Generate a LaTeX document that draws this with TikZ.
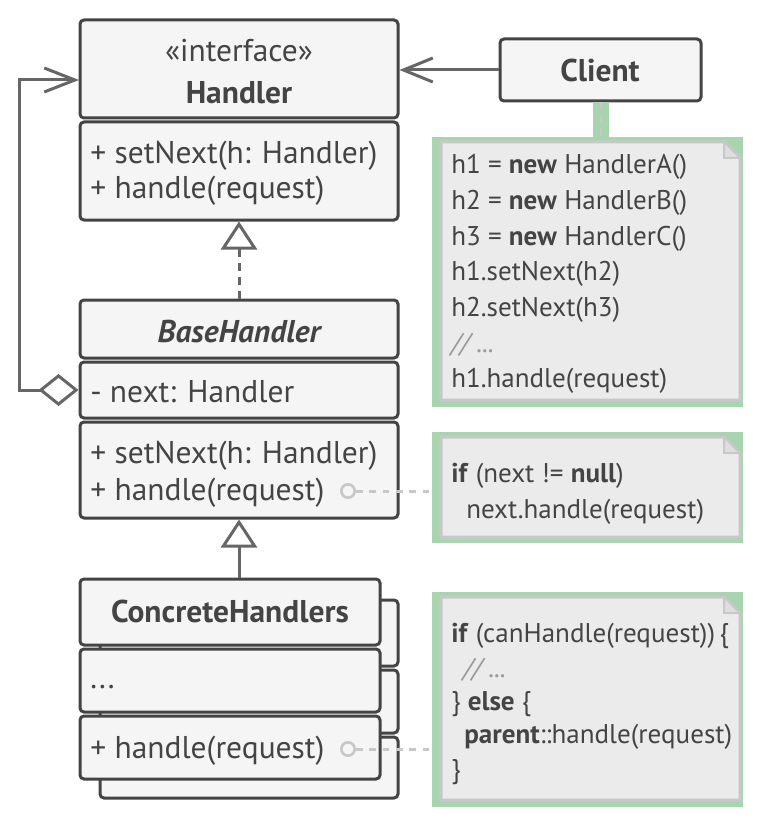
\documentclass[tikz,border=0pt]{standalone}
\usepackage{fontspec}
\setmainfont{PT Sans}
\usetikzlibrary{arrows.meta,fit}
\definecolor{txtc}{HTML}{444444}
\definecolor{boxfill}{HTML}{F5F5F5}
\definecolor{boxline}{HTML}{444444}
\definecolor{connc}{HTML}{666666}
\definecolor{notefill}{HTML}{EBEBEB}
\definecolor{noteline}{HTML}{C8C8C8}
\definecolor{halo}{HTML}{A8D5B0}
\definecolor{cmt}{HTML}{999999}
\tikzset{
  sec/.style={draw=boxline, fill=boxfill, line width=2.25pt, rounded corners=3pt, inner sep=0pt},
  haloc/.style={fill=halo, draw=none, inner sep=0pt},
  notebody/.style={fill=notefill, draw=noteline, line width=2.25pt, line join=miter},
  foldc/.style={fill=noteline!60!white, draw=noteline, line width=1.5pt, line join=miter},
  mtxt/.style={inner sep=0pt, text=txtc, font=\fontsize{23.6}{28}\selectfont},
  btxt/.style={inner sep=0pt, text=txtc, font=\fontsize{23.6}{28}\selectfont\bfseries},
  ntxt/.style={inner sep=0pt, text=txtc, font=\fontsize{20.3}{24}\selectfont},
  conn/.style={draw=connc, line width=2.25pt},
  notelink/.style={draw=noteline, line width=2.25pt, dash pattern=on 5pt off 5pt},
  pin/.style={circle, draw=noteline, fill=boxfill, line width=2pt, minimum size=10pt, inner sep=0pt},
}
\begin{document}
\begin{tikzpicture}[x=0.75pt,y=-0.75pt]
\useasboundingbox[fill=white] (0,0) rectangle (760,820);

% ---------- Handler ----------
\node[sec, fit={(80,20)(398,118)}] (hhead) {};
\node[sec, fit={(80,122)(398,220)}] (hmeth) {};
\node[mtxt, anchor=base] (hstereo) at (239,62) {«interface»};
\node[btxt, anchor=base] (htitle) at (239,104) {Handler};
\node[mtxt, anchor=base west] (hm1) at (90,163) {+ setNext(h: Handler)};
\node[mtxt, anchor=base west] (hm2) at (90,198) {+ handle(request)};

% ---------- Client ----------
\node[sec, fit={(500,39)(701,101)}] (client) {};
\node[btxt, anchor=base] (ctitle) at (600,82) {Client};

% ---------- BaseHandler ----------
\node[sec, fit={(80,300)(398,358)}] (bhead) {};
\node[sec, fit={(80,362)(398,418)}] (bfield) {};
\node[sec, fit={(80,422)(398,518)}] (bmeth) {};
\node[btxt, anchor=base, font=\fontsize{23.6}{28}\selectfont\bfseries\itshape] (btitle) at (239,342) {BaseHandler};
\node[mtxt, anchor=base west] (bf1) at (90,402) {- next: Handler};
\node[mtxt, anchor=base west] (bm1) at (90,463) {+ setNext(h: Handler)};
\node[mtxt, anchor=base west] (bm2) at (90,500) {+ handle(request)};

% ---------- ConcreteHandlers (back copy) ----------
\node[sec, fit={(100,600)(398,666)}] (k2head) {};
\node[sec, fit={(100,670)(398,733)}] (k2field) {};
\node[sec, fit={(100,737)(398,798)}] (k2meth) {};
% ---------- ConcreteHandlers (front) ----------
\node[sec, fit={(80,579)(380,645)}] (khead) {};
\node[sec, fit={(80,649)(380,712)}] (kfield) {};
\node[sec, fit={(80,716)(380,779)}] (kmeth) {};
\node[btxt, anchor=base] (ktitle) at (230,622) {ConcreteHandlers};
\node[mtxt, anchor=base west] (kf1) at (90,688) {...};
\node[mtxt, anchor=base west] (km1) at (90,758) {+ handle(request)};

% ---------- Note 1 ----------
\node[haloc, fit={(432,137)(743,407)}] (note1) {};
\draw[notebody] (441,142) -- (724,142) -- (740,158) -- (740,400) -- (441,400) -- cycle;
\draw[foldc] (724,142) -- (724,158) -- (740,158) -- cycle;
\node[ntxt, anchor=base west] (n1a) at (451,173) {h1 = \textbf{new} HandlerA()};
\node[ntxt, anchor=base west] (n1b) at (451,209) {h2 = \textbf{new} HandlerB()};
\node[ntxt, anchor=base west] (n1c) at (451,245) {h3 = \textbf{new} HandlerC()};
\node[ntxt, anchor=base west] (n1d) at (451,280) {h1.setNext(h2)};
\node[ntxt, anchor=base west] (n1e) at (451,316) {h2.setNext(h3)};
\node[ntxt, anchor=base west, text=cmt] (n1f) at (451,352) {\itshape// ...};
\node[ntxt, anchor=base west] (n1g) at (451,387) {h1.handle(request)};

% ---------- Note 2 ----------
\node[haloc, fit={(432,432)(743,543)}] (note2) {};
\draw[notebody] (441,437) -- (724,437) -- (740,453) -- (740,537) -- (441,537) -- cycle;
\draw[foldc] (724,437) -- (724,453) -- (740,453) -- cycle;
\node[ntxt, anchor=base west] (n2a) at (451,482) {\textbf{if} (next != \textbf{null})};
\node[ntxt, anchor=base west] (n2b) at (466,518) {next.handle(request)};

% ---------- Note 3 ----------
\node[haloc, fit={(432,592)(743,807)}] (note3) {};
\draw[notebody] (441,597) -- (724,597) -- (740,613) -- (740,800) -- (441,800) -- cycle;
\draw[foldc] (724,597) -- (724,613) -- (740,613) -- cycle;
\node[ntxt, anchor=base west] (n3a) at (451,642) {\textbf{if} (canHandle(request))\,\{};
\node[ntxt, anchor=base west, text=cmt] (n3b) at (463,677) {\itshape// ...};
\node[ntxt, anchor=base west] (n3c) at (451,710) {\} \textbf{else} \{};
\node[ntxt, anchor=base west] (n3d) at (464,743) {\textbf{parent}::handle(request)};
\node[ntxt, anchor=base west] (n3e) at (451,778) {\}};

% ---------- connectors ----------
\draw[conn, -{Straight Barb[length=22pt, width=18pt]}] (client.west) -- (client.west -| hhead.east);
\draw[conn, dash pattern=on 6pt off 4.5pt, -{Triangle[open, length=21pt, width=27pt, fill=white]}] (bhead.north) -- (hmeth.south);
\draw[conn, -{Triangle[open, length=21pt, width=27pt, fill=white]}] (bmeth.south |- khead.north) -- (bmeth.south);
\coordinate (hin) at (79,80);
\draw[conn, {Diamond[open, length=30pt, width=24pt, fill=white]}-{Straight Barb[length=23pt, width=18pt]}] (bfield.west) -- ++(-59,0) |- (hin);

\draw[draw=halo, line width=12pt] (client.south) -- (client.south |- note1.north);
\draw[notelink, line width=1.5pt] (client.south) -- (client.south |- note1.north);

\node[pin] (p2) at (348,491) {};
\draw[notelink] (p2.east) -- (p2.east -| note2.west);
\node[pin] (p3) at (348,749) {};
\draw[notelink] (p3.east) -- (p3.east -| note3.west);
\end{tikzpicture}
\end{document}
